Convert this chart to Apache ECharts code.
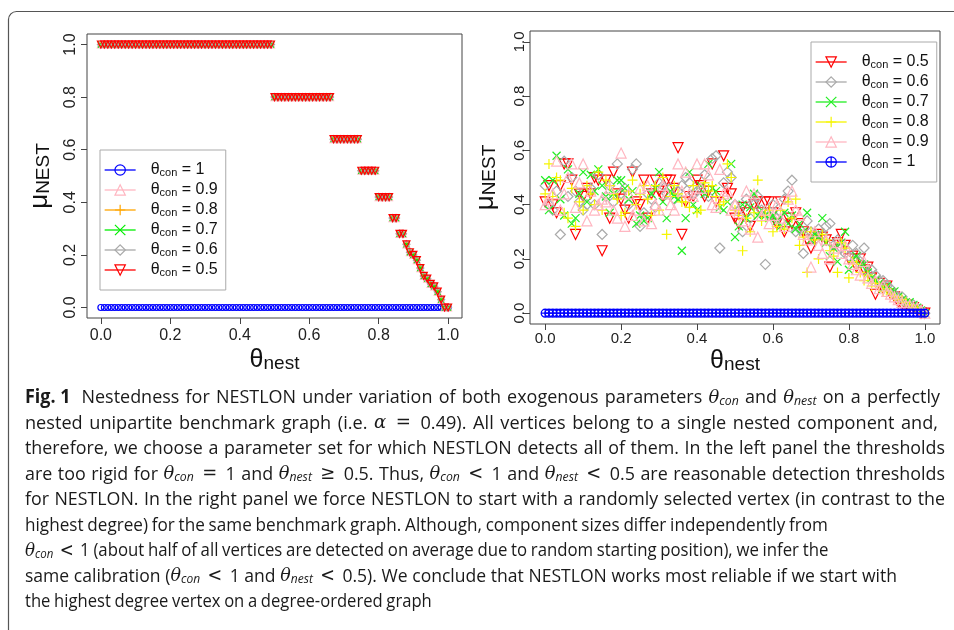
<!DOCTYPE html>
<html><head><meta charset="utf-8">
<script src="https://cdn.jsdelivr.net/npm/echarts@6/dist/echarts.min.js"></script>
<style>html,body{margin:0;padding:0;background:#fff}#c{width:954px;height:630px}</style>
</head><body><div id="c"></div>
<script>
// ---------------- DATA ----------------
// theta_nest grid (x positions of all points)
const thetaNest = Array.from({length: 101}, (_, i) => +(i / 100).toFixed(2));
const tickValues = [0, 0.2, 0.4, 0.6, 0.8, 1.0];
const leftConLabels = ['1', '0.9', '0.8', '0.7', '0.6', '0.5'];
const rightConLabels = ['0.5', '0.6', '0.7', '0.8', '0.9', '1'];

// Left panel: theta_con = 1
const leftMuCon1 = [
0,0,0,0,0,0,0,0,0,0, 0,0,0,0,0,0,0,0,0,0, 0,0,0,0,0,0,0,0,0,0, 0,0,0,0,0,0,0,0,0,0,
0,0,0,0,0,0,0,0,0,0, 0,0,0,0,0,0,0,0,0,0, 0,0,0,0,0,0,0,0,0,0, 0,0,0,0,0,0,0,0,0,0,
0,0,0,0,0,0,0,0,0,0, 0,0,0,0,0,0,0,0,0,0, 0];
// Left panel: theta_con < 1 (0.9, 0.8, 0.7, 0.6, 0.5 coincide)
const leftMuConBelow1 = [
1,1,1,1,1,1,1,1,1,1, 1,1,1,1,1,1,1,1,1,1, 1,1,1,1,1,1,1,1,1,1, 1,1,1,1,1,1,1,1,1,1,
1,1,1,1,1,1,1,1,1,1,
0.80,0.80,0.80,0.80,0.80,0.80,0.80,0.80,0.80,0.80,
0.80,0.80,0.80,0.80,0.80,0.80,0.80,0.64,0.64,0.64,
0.64,0.64,0.64,0.64,0.64,0.52,0.52,0.52,0.52,0.52,
0.42,0.42,0.42,0.42,0.34,0.34,0.28,0.28,0.24,0.21,
0.20,0.18,0.15,0.12,0.11,0.09,0.08,0.06,0.03,0,
0];

// Right panel (random start vertex)
const rightMu05 = [
0.41,0.47,0.40,0.37,0.47,0.55,0.55,0.49,0.29,0.44,
0.43,0.46,0.44,0.50,0.49,0.23,0.49,0.35,0.52,0.44,
0.42,0.38,0.35,0.52,0.41,0.40,0.49,0.35,0.44,0.49,
0.45,0.43,0.49,0.49,0.46,0.61,0.29,0.41,0.43,0.43,
0.49,0.47,0.43,0.45,0.55,0.41,0.43,0.58,0.46,0.44,
0.35,0.33,0.39,0.37,0.32,0.40,0.41,0.37,0.41,0.41,
0.37,0.33,0.41,0.30,0.35,0.33,0.37,0.33,0.30,0.27,
0.24,0.28,0.29,0.28,0.27,0.17,0.25,0.26,0.29,0.25,
0.20,0.21,0.17,0.20,0.16,0.17,0.13,0.07,0.11,0.09,
0.10,0.07,0.06,0.04,0.03,0.03,0.02,0.02,0.01,0.00,
0.00];
const rightMu06 = [
0.47,0.40,0.38,0.45,0.29,0.56,0.43,0.50,0.45,0.41,
0.38,0.40,0.46,0.40,0.51,0.29,0.43,0.47,0.41,0.55,
0.44,0.46,0.40,0.53,0.55,0.32,0.37,0.44,0.42,0.39,
0.48,0.47,0.44,0.46,0.42,0.45,0.47,0.50,0.48,0.44,
0.45,0.46,0.51,0.43,0.57,0.58,0.24,0.48,0.52,0.50,
0.40,0.38,0.30,0.42,0.35,0.40,0.43,0.38,0.18,0.36,
0.40,0.35,0.37,0.42,0.45,0.49,0.30,0.31,0.22,0.34,
0.30,0.27,0.31,0.29,0.32,0.33,0.25,0.27,0.24,0.22,
0.21,0.25,0.22,0.19,0.24,0.15,0.16,0.14,0.12,0.12,
0.10,0.09,0.07,0.06,0.06,0.04,0.03,0.03,0.02,0.01,
0.00];
const rightMu07 = [
0.49,0.38,0.49,0.58,0.42,0.36,0.53,0.33,0.35,0.44,
0.52,0.41,0.51,0.45,0.53,0.47,0.43,0.37,0.44,0.49,
0.49,0.46,0.42,0.45,0.33,0.36,0.34,0.35,0.44,0.46,
0.52,0.41,0.35,0.45,0.43,0.42,0.23,0.35,0.52,0.40,
0.38,0.47,0.44,0.55,0.46,0.45,0.39,0.38,0.41,0.55,
0.28,0.32,0.40,0.35,0.39,0.44,0.36,0.38,0.36,0.35,
0.36,0.34,0.32,0.37,0.33,0.36,0.31,0.33,0.30,0.37,
0.27,0.29,0.28,0.35,0.26,0.21,0.24,0.19,0.26,0.30,
0.16,0.20,0.21,0.18,0.18,0.15,0.13,0.12,0.11,0.09,
0.10,0.08,0.08,0.06,0.05,0.04,0.04,0.03,0.02,0.01,
0.00];
const rightMu08 = [
0.44,0.55,0.43,0.50,0.49,0.37,0.35,0.46,0.32,0.41,
0.38,0.47,0.44,0.40,0.52,0.38,0.49,0.47,0.44,0.42,
0.36,0.37,0.45,0.49,0.40,0.44,0.47,0.42,0.36,0.47,
0.38,0.50,0.29,0.43,0.47,0.44,0.41,0.41,0.39,0.47,
0.37,0.38,0.48,0.45,0.47,0.43,0.40,0.41,0.55,0.50,
0.38,0.36,0.23,0.35,0.30,0.37,0.49,0.34,0.36,0.38,
0.30,0.32,0.38,0.31,0.41,0.35,0.42,0.25,0.28,0.15,
0.30,0.27,0.20,0.29,0.27,0.23,0.21,0.15,0.26,0.24,
0.13,0.19,0.18,0.15,0.12,0.14,0.10,0.11,0.10,0.08,
0.09,0.07,0.06,0.05,0.05,0.04,0.03,0.02,0.02,0.01,
0.00];
const rightMu09 = [
0.40,0.42,0.44,0.56,0.38,0.44,0.50,0.55,0.39,0.48,
0.55,0.34,0.45,0.38,0.40,0.42,0.41,0.46,0.38,0.35,
0.59,0.32,0.44,0.36,0.38,0.46,0.34,0.47,0.33,0.40,
0.38,0.47,0.44,0.40,0.38,0.55,0.45,0.52,0.44,0.43,
0.55,0.46,0.55,0.51,0.40,0.39,0.53,0.44,0.45,0.38,
0.40,0.37,0.34,0.45,0.31,0.44,0.28,0.36,0.38,0.33,
0.36,0.40,0.35,0.32,0.42,0.45,0.38,0.36,0.29,0.27,
0.17,0.30,0.25,0.22,0.27,0.20,0.24,0.26,0.22,0.25,
0.20,0.18,0.16,0.14,0.19,0.13,0.11,0.12,0.09,0.10,
0.08,0.07,0.06,0.05,0.04,0.03,0.03,0.02,0.02,0.01,
0.00];
const rightMu1 = [
0,0,0,0,0,0,0,0,0,0, 0,0,0,0,0,0,0,0,0,0, 0,0,0,0,0,0,0,0,0,0, 0,0,0,0,0,0,0,0,0,0,
0,0,0,0,0,0,0,0,0,0, 0,0,0,0,0,0,0,0,0,0, 0,0,0,0,0,0,0,0,0,0, 0,0,0,0,0,0,0,0,0,0,
0,0,0,0,0,0,0,0,0,0, 0,0,0,0,0,0,0,0,0,0, 0];

// caption lines: [styleKey, text]
const captionLines = [
  [['b','Fig.\u00a01'],['n',' Nestedness for NESTLON under variation of both exogenous parameters '],['ti','θ'],['si','con'],['n',' and '],['ti','θ'],['si','nest'],['n',' on a perfectly']],
  [['n','nested unipartite benchmark graph (i.e. '],['ti','α'],['m',' = '],['n','0.49). All vertices belong to a single nested component and,']],
  [['n','therefore, we choose a parameter set for which NESTLON detects all of them. In the left panel the thresholds']],
  [['n','are too rigid for '],['ti','θ'],['si','con'],['m',' = '],['n','1 and '],['ti','θ'],['si','nest'],['m',' ≥ '],['n','0.5. Thus, '],['ti','θ'],['si','con'],['m',' < '],['n','1 and '],['ti','θ'],['si','nest'],['m',' < '],['n','0.5 are reasonable detection thresholds']],
  [['n','for NESTLON. In the right panel we force NESTLON to start with a randomly selected vertex (in contrast to the']],
  [['n','highest degree) for the same benchmark graph. Although, component sizes differ independently from']],
  [['ti','θ'],['si','con'],['m',' < '],['n','1 (about half of all vertices are detected on average due to random starting position), we infer the']],
  [['n','same calibration ('],['ti','θ'],['si','con'],['m',' < '],['n','1 and '],['ti','θ'],['si','nest'],['m',' < '],['n','0.5). We conclude that NESTLON works most reliable if we start with']],
  [['n','the highest degree vertex on a degree-ordered graph']]
];

// ---------------- STYLE / LAYOUT ----------------
const CAP_Y = [398, 423.5, 449, 474.5, 500, 525.5, 551, 576.5, 602];
const CAP_END = [940, 938, 945, 945, 945, 818, 806, 897, 415];
const CAP_FULL = [true, true, true, true, true, false, false, false, false];
const CAP_X = 25;
const SANS = "'Liberation Sans', Arial, sans-serif";
const CAPSANS = "'Open Sans', 'Noto Sans', 'Liberation Sans', sans-serif";
const SERIF = "'DejaVu Serif', 'Liberation Serif', serif";

const PLUS = 'path://M5,0L5,10M0,5L10,5';
const CROSS = 'path://M0,0L10,10M0,10L10,0';
const OPLUS = 'path://M0,5A5,5,0,1,1,10,5A5,5,0,1,1,0,5ZM5,0L5,10M0,5L10,5';

const styleLeft = {
  '1':   {color: '#0000FF', symbol: 'circle', rot: 0, size: 6},
  '0.9': {color: '#FFB6C1', symbol: 'triangle', rot: 0, size: 7},
  '0.8': {color: '#FFA500', symbol: PLUS, rot: 0, size: 7},
  '0.7': {color: '#00EE00', symbol: CROSS, rot: 0, size: 6},
  '0.6': {color: '#A9A9A9', symbol: 'diamond', rot: 0, size: 7},
  '0.5': {color: '#FF0000', symbol: 'triangle', rot: 180, size: 7}
};
const styleRight = {
  '0.5': {color: '#FF0000', symbol: 'triangle', rot: 180, size: 10},
  '0.6': {color: '#AAAAAA', symbol: 'diamond', rot: 0, size: 10},
  '0.7': {color: '#22EE22', symbol: CROSS, rot: 0, size: 8},
  '0.8': {color: '#F5F500', symbol: PLUS, rot: 0, size: 10},
  '0.9': {color: '#FFB6C1', symbol: 'triangle', rot: 0, size: 10},
  '1':   {color: '#0000FF', symbol: OPLUS, rot: 0, size: 8}
};
const leftData = {'1': leftMuCon1, '0.9': leftMuConBelow1, '0.8': leftMuConBelow1, '0.7': leftMuConBelow1, '0.6': leftMuConBelow1, '0.5': leftMuConBelow1};
const rightData = {'0.5': rightMu05, '0.6': rightMu06, '0.7': rightMu07, '0.8': rightMu08, '0.9': rightMu09, '1': rightMu1};

function pairs(ys) { return ys.map((y, i) => [thetaNest[i], y]); }

function makeSeries(prefix, label, st, ys, gridIdx) {
  return {
    name: prefix + label, type: 'line', xAxisIndex: gridIdx, yAxisIndex: gridIdx,
    data: pairs(ys), symbol: st.symbol, symbolSize: st.size, symbolRotate: st.rot,
    showSymbol: true, showAllSymbol: true, silent: true, animation: false,
    lineStyle: {opacity: 0, width: 0.01},
    itemStyle: {color: 'rgba(0,0,0,0)', borderColor: st.color, borderWidth: 1.2},
    emphasis: {disabled: true}
  };
}

const series = [];
leftConLabels.forEach(l => series.push(makeSeries('L', l, styleLeft[l], leftData[l], 0)));
rightConLabels.forEach(l => series.push(makeSeries('R', l, styleRight[l], rightData[l], 1)));

function legendData(prefix, labels, styles) {
  return labels.map(l => ({
    name: prefix + l,
    itemStyle: {color: 'rgba(0,0,0,0)', borderColor: styles[l].color, borderWidth: 1.2, opacity: 1},
    lineStyle: {color: styles[l].color, width: 1.3, opacity: 1, type: 'solid'}
  }));
}
const legendRich = {
  th: {fontSize: 16, fontFamily: SANS, color: '#111', lineHeight: 16, verticalAlign: 'bottom', padding: [0, 0, 0, 10]},
  sb: {fontSize: 11, fontFamily: SANS, color: '#111', lineHeight: 6, verticalAlign: 'bottom'},
  tx: {fontSize: 16, fontFamily: SANS, color: '#111', lineHeight: 16, verticalAlign: 'bottom'}
};
function legendCommon(prefix, labels, styles, left, top) {
  return {
    orient: 'vertical', left: left, top: top, padding: [12, 8, 12, 4],
    itemWidth: 31, itemHeight: 13, itemGap: 4, selectedMode: false,
    borderColor: '#aaaaaa', borderWidth: 1, backgroundColor: '#fff',
    data: legendData(prefix, labels, styles),
    formatter: n => '{th|θ}{sb|con}{tx| = ' + n.slice(1) + '}',
    textStyle: {rich: legendRich}
  };
}

function xAxisCfg(gridIdx, fs, margin, nameGap) {
  return {
    type: 'value', gridIndex: gridIdx, min: -0.04, max: 1.04,
    axisLine: {show: false, onZero: false}, splitLine: {show: false},
    axisTick: {show: true, inside: false, length: 6, customValues: tickValues, lineStyle: {color: '#444', width: 1}},
    axisLabel: {customValues: tickValues, formatter: v => v.toFixed(1), fontSize: fs, fontFamily: SANS, color: '#222', margin: margin},
    name: '{m|θ}{s|nest}', nameLocation: 'middle', nameGap: nameGap, nameMoveOverlap: false,
    nameTextStyle: {rich: {
      m: {fontSize: 25, fontFamily: SANS, color: '#111', lineHeight: 30, verticalAlign: 'bottom'},
      s: {fontSize: 19, fontFamily: SANS, color: '#111', lineHeight: 18, verticalAlign: 'bottom'}
    }}
  };
}
function yAxisCfg(gridIdx, fs, margin, nameGap) {
  return {
    type: 'value', gridIndex: gridIdx, min: -0.04, max: 1.04,
    axisLine: {show: false, onZero: false}, splitLine: {show: false},
    axisTick: {show: true, inside: false, length: 6, customValues: tickValues, lineStyle: {color: '#444', width: 1}},
    axisLabel: {customValues: tickValues, formatter: v => v.toFixed(1), fontSize: fs, fontFamily: SANS, color: '#222', margin: margin, rotate: 90},
    name: '{m|μ}{s|NEST}', nameLocation: 'middle', nameGap: nameGap, nameRotate: 90, nameMoveOverlap: false,
    nameTextStyle: {rich: {
      m: {fontSize: 26, fontFamily: SANS, color: '#111', lineHeight: 30, verticalAlign: 'bottom'},
      s: {fontSize: 19, fontFamily: SANS, color: '#111', lineHeight: 18, verticalAlign: 'bottom'}
    }}
  };
}

// ---------------- CAPTION (word by word) ----------------
const capFonts = {
  n:  {fontSize: 19, fontFamily: CAPSANS, fontStyle: 'normal', fontWeight: 'normal', lineHeight: 19, pad: 0},
  b:  {fontSize: 19, fontFamily: CAPSANS, fontStyle: 'normal', fontWeight: 'bold', lineHeight: 19, pad: 0},
  ti: {fontSize: 19, fontFamily: SERIF, fontStyle: 'italic', fontWeight: 'normal', lineHeight: 19, pad: 0},
  si: {fontSize: 13, fontFamily: CAPSANS, fontStyle: 'italic', fontWeight: 'normal', lineHeight: 7, pad: 0},
  m:  {fontSize: 19, fontFamily: SERIF, fontStyle: 'normal', fontWeight: 'normal', lineHeight: 19, pad: 3}
};
const mctx = document.createElement('canvas').getContext('2d');
function tokW(k, t) {
  const f = capFonts[k];
  mctx.font = f.fontStyle + ' ' + f.fontWeight + ' ' + f.fontSize + 'px ' + f.fontFamily;
  return mctx.measureText(t).width + 2 * f.pad;
}
function splitWords(tokens) {
  const words = []; let cur = [];
  tokens.forEach(([k, t]) => {
    t.split(' ').forEach((p, j) => {
      if (j > 0 && cur.length) { words.push(cur); cur = []; }
      if (p) cur.push([k, p]);
    });
  });
  if (cur.length) words.push(cur);
  return words;
}
const capRich = {};
Object.keys(capFonts).forEach(k => {
  const f = capFonts[k];
  capRich[k] = {fontSize: f.fontSize, fontFamily: f.fontFamily, fontStyle: f.fontStyle, fontWeight: f.fontWeight,
    lineHeight: f.lineHeight, verticalAlign: 'bottom', fill: '#1a1a1a', padding: [0, f.pad, 0, f.pad]};
});
const spaceW = tokW('n', ' ');
const capInfo = captionLines.map(tokens => {
  const words = splitWords(tokens);
  const widths = words.map(w => w.reduce((a, [k, t]) => a + tokW(k, t), 0));
  const lead = words[0][0][0] === 'b' ? 5 : 0;
  const sum = widths.reduce((a, b) => a + b, 0) + lead;
  return {words, widths, sum, lead, natural: sum + spaceW * (words.length - 1)};
});
// base horizontal compression fitted on all lines
let sAcc = 0;
capInfo.forEach((ci, i) => { sAcc += Math.log((CAP_END[i] - CAP_X) / ci.natural); });
const baseScale = Math.exp(sAcc / capInfo.length);

const graphics = [{
  type: 'rect', silent: true, z: 0,
  shape: {x: 8.5, y: 11.5, width: 1000, height: 700, r: 8},
  style: {fill: 'none', stroke: '#555', lineWidth: 1.2}
}];
capInfo.forEach((ci, i) => {
  const target = CAP_END[i] - CAP_X;
  const r = target / (ci.natural * baseScale);
  const s = baseScale * Math.pow(r, 0.5);
  let gap = ci.words.length > 1 ? (target / s - ci.sum) / (ci.words.length - 1) : spaceW;
  if (!CAP_FULL[i]) gap = Math.max(0.85 * spaceW, Math.min(1.35 * spaceW, gap));
  let cx = 0;
  ci.words.forEach((w, j) => {
    graphics.push({
      type: 'text', silent: true, x: CAP_X + cx * s, y: CAP_Y[i], scaleX: s,
      style: {
        text: w.map(([k, t]) => '{' + k + '|' + t + '}').join(''),
        rich: capRich, fill: '#1a1a1a', fontSize: 19, fontFamily: CAPSANS,
        align: 'left', verticalAlign: 'middle', textAlign: 'left', textVerticalAlign: 'middle'
      }
    });
    cx += ci.widths[j] + gap + (j === 0 ? ci.lead : 0);
  });
});

const chart = echarts.init(document.getElementById('c'), null, {renderer: 'canvas'});
chart.setOption({
  animation: false,
  backgroundColor: '#fff',
  grid: [
    {left: 87, top: 34, width: 375, height: 284, show: true, borderColor: '#444', borderWidth: 1, backgroundColor: 'rgba(0,0,0,0)', outerBoundsMode: 'none', containLabel: false},
    {left: 530, top: 31, width: 410, height: 293, show: true, borderColor: '#444', borderWidth: 1, backgroundColor: 'rgba(0,0,0,0)', outerBoundsMode: 'none', containLabel: false}
  ],
  xAxis: [xAxisCfg(0, 16, 10, 25), xAxisCfg(1, 15, 7, 20)],
  yAxis: [yAxisCfg(0, 16, 8, 34), yAxisCfg(1, 15, 3, 31)],
  legend: [legendCommon('L', leftConLabels, styleLeft, 100, 150), legendCommon('R', rightConLabels, styleRight, 811, 42)],
  series: series,
  graphic: graphics
});
</script></body></html>
